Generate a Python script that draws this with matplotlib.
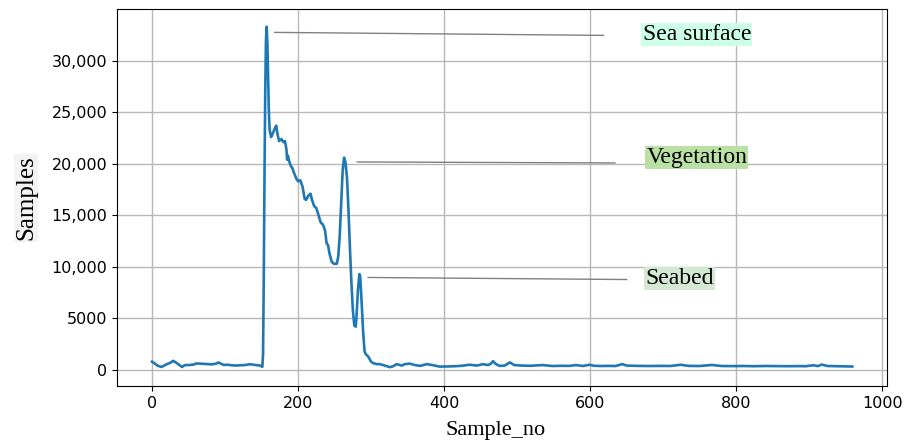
import matplotlib
matplotlib.use("Agg")
import matplotlib.pyplot as plt

# echo trace
sample_no = [0, 4, 8, 13, 20, 25, 29, 33, 36, 41, 45, 52, 57, 61, 68, 75, 82, 87, 91, 98,
             103, 107, 114, 121, 128, 134, 141, 148, 151, 152, 153, 154, 155, 156, 157, 158,
             159, 160, 161, 163, 165, 168, 170, 172, 174, 177, 180, 182, 184, 185, 186, 188,
             190, 192, 195, 198, 200, 203, 206, 209, 211, 214, 217, 219, 222, 225, 228, 231,
             234, 237, 239, 241, 243, 246, 249, 253, 255, 257, 259, 261, 263, 265, 267, 269,
             271, 273, 275, 277, 279, 280, 282, 284, 285, 287, 289, 291, 293, 296, 300, 303,
             308, 312, 319, 326, 330, 335, 342, 346, 353, 360, 367, 376, 384, 394, 403, 412,
             424, 435, 445, 453, 460, 464, 467, 471, 476, 483, 487, 490, 496, 507, 518, 530,
             535, 548, 560, 572, 580, 590, 599, 605, 615, 625, 635, 644, 650, 665, 680, 695,
             710, 724, 735, 750, 767, 780, 795, 810, 825, 840, 855, 870, 885, 895, 906, 912,
             917, 925, 935, 945, 959]
samples = [800, 600, 400, 290, 550, 700, 880, 700, 550, 290, 470, 480, 520, 630, 600, 560, 540, 600, 720, 480,
           500, 470, 420, 450, 480, 550, 480, 420, 300, 1500, 9000, 19000, 27000, 32000, 33300, 31500,
           28000, 25000, 23300, 22600, 22900, 23400, 23700, 22800, 22200, 22400, 22100, 22200, 21400, 20400, 20800, 20200,
           19800, 19600, 19000, 18500, 18300, 18400, 17800, 16600, 16500, 16900, 17100, 16500, 15900, 15700, 15000, 14300,
           14100, 13500, 12300, 12100, 11300, 10500, 10300, 10300, 11000, 13000, 16200, 19300, 20600, 20100, 18600, 15500,
           11800, 8500, 5800, 4300, 4200, 5200, 7800, 9300, 9100, 6600, 3800, 1800, 1500, 1300, 800, 650,
           560, 560, 420, 270, 350, 560, 420, 560, 610, 470, 390, 560, 470, 320, 330, 350,
           400, 500, 420, 560, 470, 600, 850, 560, 390, 420, 600, 730, 470, 420, 400, 450,
           470, 380, 400, 390, 470, 380, 500, 400, 380, 390, 380, 560, 420, 390, 380, 390,
           380, 500, 390, 380, 480, 380, 370, 380, 360, 380, 370, 360, 370, 360, 450, 370,
           520, 380, 360, 350, 330]

yticks = [0, 5000, 10000, 15000, 20000, 25000, 30000]
ytick_labels = ['0', '5000', '10,000', '15,000', '20,000', '25,000', '30,000']
xticks = [0, 200, 400, 600, 800, 1000]

labels = ['Sea surface', 'Vegetation', 'Seabed']
label_colors = ['#ccffe6', '#b9e0a5', '#d5e8d4']
# pointer lines: (start x, start y, end x, end y) and text centres, in data units
pointers = [(168, 32750, 618, 32460), (281, 20180, 634, 20080), (296, 8970, 650, 8770)]
text_at = [(746, 32550), (746, 20590), (722, 8840)]

fig = plt.figure(figsize=(9.05, 4.45), dpi=100)
ax = fig.add_axes([0.1293, 0.1326, 0.8512, 0.8465])
ax.plot(sample_no, samples, color='#1f77b4', linewidth=1.9)
ax.grid(True, color='#b8b8b8', linewidth=1.0)
ax.set_xticks(xticks)
ax.set_yticks(yticks)
ax.set_yticklabels(ytick_labels)
ax.tick_params(labelsize=11.5)
ax.set_xlim(-48, 1007)
ax.set_ylim(-1560, 34990)

serif = ['Liberation Serif', 'DejaVu Serif']
for name, col, (x0, y0, x1, y1), (tx, ty) in zip(labels, label_colors, pointers, text_at):
    ax.plot([x0, x1], [y0, y1], color='#808080', linewidth=1.0)
    ax.text(tx, ty, name, family=serif, fontsize=17, ha='center', va='center',
            bbox=dict(boxstyle='square,pad=0.05', facecolor=col, edgecolor='none'))

fig.text(496 / 905, 1 - 431 / 445, 'Sample_no', family=serif, fontsize=16,
         ha='center', va='center')
fig.text(26 / 905, 1 - 198 / 445, 'Samples', family=serif, fontsize=18,
         ha='center', va='center', rotation=90,
         bbox=dict(boxstyle='square,pad=0.05', facecolor='#f3f3f3', edgecolor='none'))

fig.savefig('out.png', dpi=100)
